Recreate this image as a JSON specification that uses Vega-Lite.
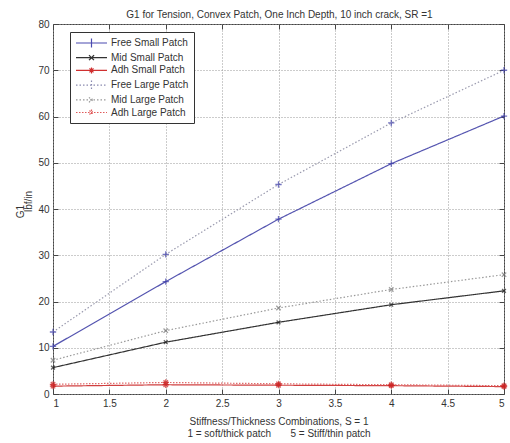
{
  "$schema": "https://vega.github.io/schema/vega-lite/v6.json",
  "width": 451,
  "height": 370,
  "autosize": "none",
  "padding": {"left": 53, "top": 24, "right": 6, "bottom": 49},
  "background": "white",
  "config": {
    "font": "Liberation Sans",
    "view": {"stroke": "#444", "strokeWidth": 1},
    "axis": {"labelFont": "Liberation Sans", "titleFont": "Liberation Sans", "labelColor": "#333", "titleColor": "#333", "labelFontSize": 10, "titleFontSize": 10, "titleFontWeight": "normal", "domainColor": "#444", "tickColor": "#444", "gridColor": "#999", "gridDash": [1, 2], "gridWidth": 1, "gridOpacity": 1}
  },
  "data": {"values": [
    {"series": "Free Small Patch", "s": 1, "g1": 10.3},
    {"series": "Free Small Patch", "s": 2, "g1": 24.3},
    {"series": "Free Small Patch", "s": 3, "g1": 37.8},
    {"series": "Free Small Patch", "s": 4, "g1": 49.8},
    {"series": "Free Small Patch", "s": 5, "g1": 60.1},
    {"series": "Mid Small Patch", "s": 1, "g1": 5.7},
    {"series": "Mid Small Patch", "s": 2, "g1": 11.2},
    {"series": "Mid Small Patch", "s": 3, "g1": 15.5},
    {"series": "Mid Small Patch", "s": 4, "g1": 19.3},
    {"series": "Mid Small Patch", "s": 5, "g1": 22.3},
    {"series": "Adh Small Patch", "s": 1, "g1": 1.7},
    {"series": "Adh Small Patch", "s": 2, "g1": 2.0},
    {"series": "Adh Small Patch", "s": 3, "g1": 1.9},
    {"series": "Adh Small Patch", "s": 4, "g1": 1.8},
    {"series": "Adh Small Patch", "s": 5, "g1": 1.6},
    {"series": "Free Large Patch", "s": 1, "g1": 13.4},
    {"series": "Free Large Patch", "s": 2, "g1": 30.2},
    {"series": "Free Large Patch", "s": 3, "g1": 45.3},
    {"series": "Free Large Patch", "s": 4, "g1": 58.6},
    {"series": "Free Large Patch", "s": 5, "g1": 70.0},
    {"series": "Mid Large Patch", "s": 1, "g1": 7.3},
    {"series": "Mid Large Patch", "s": 2, "g1": 13.7},
    {"series": "Mid Large Patch", "s": 3, "g1": 18.6},
    {"series": "Mid Large Patch", "s": 4, "g1": 22.6},
    {"series": "Mid Large Patch", "s": 5, "g1": 25.8},
    {"series": "Adh Large Patch", "s": 1, "g1": 2.1},
    {"series": "Adh Large Patch", "s": 2, "g1": 2.5},
    {"series": "Adh Large Patch", "s": 3, "g1": 2.2},
    {"series": "Adh Large Patch", "s": 4, "g1": 2.0},
    {"series": "Adh Large Patch", "s": 5, "g1": 1.8}
  ]},
  "resolve": {"axis": {"x": "independent", "y": "independent"}, "scale": {"shape": "independent", "color": "independent", "strokeDash": "independent"}},
  "layer": [
    {
      "mark": {"type": "line", "strokeWidth": 1.2, "clip": true},
      "encoding": {
        "x": {"field": "s", "type": "quantitative", "scale": {"domain": [1, 5], "nice": false, "zero": false},
          "axis": {"values": [1, 1.5, 2, 2.5, 3, 3.5, 4, 4.5, 5], "format": "~g", "tickSize": -5, "labelPadding": 9, "grid": true, "domain": false,
            "title": ["Stiffness/Thickness Combinations, S = 1", "1 = soft/thick patch\u00a0\u00a0\u00a0\u00a0\u00a0\u00a0\u00a05 = Stiff/thin patch"], "titlePadding": 8, "titleLineHeight": 12.5}},
        "y": {"field": "g1", "type": "quantitative", "scale": {"domain": [0, 80], "nice": false},
          "axis": {"values": [0, 10, 20, 30, 40, 50, 60, 70, 80], "tickSize": -5, "labelPadding": 9, "grid": true, "domain": false,
            "title": "G1", "titleX": -33, "titleY": 187, "titleAngle": -90, "titleAlign": "center", "titleBaseline": "middle"}},
        "stroke": {"field": "series", "type": "nominal",
          "scale": {"domain": ["Free Small Patch", "Mid Small Patch", "Adh Small Patch", "Free Large Patch", "Mid Large Patch", "Adh Large Patch"],
            "range": ["#5555b0", "#333333", "#d04040", "#9a9aae", "#999999", "#e06a6a"]},
          "legend": null},
        "strokeDash": {"field": "series", "type": "nominal",
          "scale": {"domain": ["Free Small Patch", "Mid Small Patch", "Adh Small Patch", "Free Large Patch", "Mid Large Patch", "Adh Large Patch"],
            "range": [[1, 0], [1, 0], [1, 0], [1.5, 2], [1.5, 2], [1.5, 1.5]]},
          "legend": null}
      }
    },
    {
      "mark": {"type": "point", "filled": false, "strokeWidth": 1.3, "clip": false},
      "encoding": {
        "x": {"field": "s", "type": "quantitative", "scale": {"domain": [1, 5], "nice": false, "zero": false},
          "axis": {"orient": "top", "values": [1, 1.5, 2, 2.5, 3, 3.5, 4, 4.5, 5], "labels": false, "tickSize": -5, "grid": false, "domain": false,
            "title": "G1 for Tension, Convex Patch, One Inch Depth, 10 inch crack, SR =1", "titleX": 226, "titleY": -10, "titleAlign": "center", "titleBaseline": "middle", "titleAngle": 0}},
        "y": {"field": "g1", "type": "quantitative", "scale": {"domain": [0, 80], "nice": false},
          "axis": {"orient": "right", "values": [0, 10, 20, 30, 40, 50, 60, 70, 80], "labels": false, "tickSize": -5, "grid": false, "domain": false, "title": null}},
        "shape": {"field": "series", "type": "nominal",
          "scale": {"domain": ["Free Small Patch", "Mid Small Patch", "Adh Small Patch", "Free Large Patch", "Mid Large Patch", "Adh Large Patch"],
            "range": ["M-1,0H1M0,-1V1", "M-0.6,-0.6L0.6,0.6M-0.6,0.6L0.6,-0.6", "M-1,0H1M0,-1V1M-0.7,-0.7L0.7,0.7M-0.7,0.7L0.7,-0.7", "M-1,0H1M0,-1V1", "M-0.7,-0.7L0.7,0.7M-0.7,0.7L0.7,-0.7", "M-1,0H1M0,-1V1M-0.7,-0.7L0.7,0.7M-0.7,0.7L0.7,-0.7"]},
          "legend": null},
        "color": {"field": "series", "type": "nominal",
          "scale": {"domain": ["Free Small Patch", "Mid Small Patch", "Adh Small Patch", "Free Large Patch", "Mid Large Patch", "Adh Large Patch"],
            "range": ["#3a3aa8", "#222222", "#cc2020", "#3a3aa8", "#777777", "#cc2020"]},
          "legend": null},
        "size": {"value": 40}
      }
    },
    {
      "mark": {"type": "point", "filled": false, "strokeWidth": 1.2, "opacity": 0, "clip": true},
      "encoding": {
        "x": {"field": "s", "type": "quantitative", "axis": null},
        "y": {"field": "g1", "type": "quantitative",
          "axis": {"orient": "left", "labels": false, "ticks": false, "grid": false, "domain": false,
            "title": "lbf/in", "titleX": -25, "titleY": 177, "titleAngle": -90, "titleAlign": "center", "titleBaseline": "middle"}},
        "shape": {"field": "series", "type": "nominal",
          "scale": {"domain": ["Free Small Patch", "Mid Small Patch", "Adh Small Patch", "Free Large Patch", "Mid Large Patch", "Adh Large Patch"],
            "range": ["M-1,0H5.2M2.1,-0.9V0.9", "M-1,0H5.2M1.6,-0.5L2.6,0.5M1.6,0.5L2.6,-0.5", "M-1,0H5.2M2.1,-0.6V0.6M1.7,-0.4L2.5,0.4M1.7,0.4L2.5,-0.4", "M-1,0H5.2M2.1,-0.9V0.9", "M-1,0H5.2M1.6,-0.5L2.6,0.5M1.6,0.5L2.6,-0.5", "M-1,0H5.2M2.1,-0.6V0.6M1.7,-0.4L2.5,0.4M1.7,0.4L2.5,-0.4"]},
          "legend": {"orient": "none", "legendX": 17, "legendY": 8, "title": null, "padding": 5, "strokeColor": "#333", "fillColor": "white",
            "labelFontSize": 10, "labelColor": "#333", "labelFont": "Liberation Sans", "symbolSize": 100, "symbolStrokeWidth": 1.2, "symbolOpacity": 1, "labelOffset": 24, "rowPadding": 1.7}},
        "color": {"field": "series", "type": "nominal",
          "scale": {"domain": ["Free Small Patch", "Mid Small Patch", "Adh Small Patch", "Free Large Patch", "Mid Large Patch", "Adh Large Patch"],
            "range": ["#4a4ab0", "#333333", "#d03030", "#8a8ab0", "#999999", "#e05a5a"]},
          "legend": {"orient": "none", "legendX": 17, "legendY": 8, "title": null, "padding": 5, "strokeColor": "#333", "fillColor": "white",
            "labelFontSize": 10, "labelColor": "#333", "labelFont": "Liberation Sans", "symbolSize": 100, "symbolStrokeWidth": 1.2, "symbolOpacity": 1, "labelOffset": 24, "rowPadding": 1.7}},
        "strokeDash": {"field": "series", "type": "nominal",
          "scale": {"domain": ["Free Small Patch", "Mid Small Patch", "Adh Small Patch", "Free Large Patch", "Mid Large Patch", "Adh Large Patch"],
            "range": [[1, 0], [1, 0], [1, 0], [1.5, 2], [1.5, 2], [1.5, 1.5]]},
          "legend": {"orient": "none", "legendX": 17, "legendY": 8, "title": null, "padding": 5, "strokeColor": "#333", "fillColor": "white",
            "labelFontSize": 10, "labelColor": "#333", "labelFont": "Liberation Sans", "symbolSize": 100, "symbolStrokeWidth": 1.2, "symbolOpacity": 1, "labelOffset": 24, "rowPadding": 1.7}},
        "size": {"value": 100}
      }
    }
  ]
}
